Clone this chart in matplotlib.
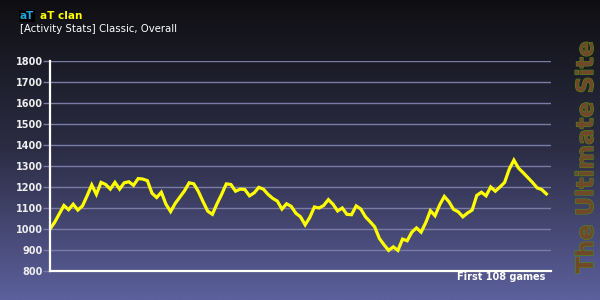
import numpy as np
import matplotlib
matplotlib.use('Agg')
import matplotlib.pyplot as plt
import matplotlib.patheffects as pe
from matplotlib.colors import LinearSegmentedColormap

# rating after each game
ratings = [1000, 1032, 1072, 1112, 1092, 1118, 1090, 1110, 1158, 1210,
           1165, 1222, 1212, 1190, 1222, 1190, 1220, 1225, 1208, 1240,
           1238, 1230, 1170, 1150, 1175, 1118, 1083, 1122, 1152, 1182,
           1220, 1215, 1178, 1130, 1085, 1070, 1120, 1165, 1215, 1212,
           1180, 1190, 1188, 1158, 1172, 1198, 1190, 1165, 1146, 1133,
           1095, 1120, 1108, 1075, 1058, 1020, 1055, 1105, 1100, 1112,
           1140, 1118, 1086, 1100, 1070, 1068, 1110, 1095, 1058, 1035,
           1010, 955, 925, 898, 915, 898, 952, 944, 985, 1005,
           985, 1030, 1087, 1063, 1115, 1155, 1130, 1093, 1082, 1058,
           1076, 1090, 1160, 1175, 1158, 1200, 1180, 1200, 1222, 1285,
           1328, 1290, 1268, 1245, 1222, 1196, 1188, 1167]
y_ticks = [800, 900, 1000, 1100, 1200, 1300, 1400, 1500, 1600, 1700, 1800]
clan_tag = 'aT'
clan_name = 'aT clan'
subtitle = '[Activity Stats] Classic, Overall'
footer = 'First 108 games'
watermark = 'The Ultimate Site'

games = np.arange(len(ratings))

fig = plt.figure(figsize=(6, 3), dpi=100)

# background gradient, dark on top, periwinkle at the bottom
bg = fig.add_axes([0, 0, 1, 1], zorder=0)
cmap = LinearSegmentedColormap.from_list('bg', ['#0f0f12', '#2c2d45', '#5c609c'])
bg.imshow(np.linspace(0, 1, 256).reshape(-1, 1), aspect='auto', cmap=cmap,
          extent=[0, 1, 0, 1])
bg.axis('off')

ax = fig.add_axes([50 / 600, 1 - 271 / 300, 501 / 600, 210 / 300], zorder=1)
ax.set_facecolor('none')
ax.plot(games, ratings, color='#ffff00', lw=2.3, solid_joinstyle='miter', zorder=3)
ax.set_xlim(0, 108)
ax.set_ylim(800, 1800)
ax.set_yticks(y_ticks)
ax.set_xticks([])
ax.grid(axis='y', color='#7a7ca6', lw=1.0)
ax.tick_params(axis='y', length=5.0, width=1.0, color='#7a7ca6', pad=0,
               labelsize=7, labelcolor='#eeeeee')
for lab in ax.get_yticklabels():
    lab.set_fontweight('bold')
for s in ['top', 'right']:
    ax.spines[s].set_visible(False)
for s in ['left', 'bottom']:
    ax.spines[s].set_color('white')
    ax.spines[s].set_linewidth(1.6)
    ax.spines[s].set_zorder(4)

# header
fig.text(20 / 600, 1 - 16 / 300, clan_tag, color='#20a8e0', fontsize=7.5,
         fontweight='bold', va='center', ha='left',
         bbox=dict(facecolor='black', edgecolor='none', pad=0.6))
fig.text(40 / 600, 1 - 16 / 300, clan_name, color='#ffff00', fontsize=7.5,
         fontweight='bold', va='center', ha='left')
fig.text(20 / 600, 1 - 29 / 300, subtitle, color='white', fontsize=7.3,
         va='center', ha='left')
fig.text(545 / 600, 1 - 277 / 300, footer, color='white', fontsize=7,
         fontweight='bold', va='center', ha='right')

# vertical site logo on the right: brown letters with a thin grass edge
fig.text(586 / 600, 1 - 157 / 300, watermark, rotation=90, color='#70482a',
         fontsize=17, fontweight='bold', va='center', ha='center',
         path_effects=[pe.withStroke(linewidth=0.8, foreground='#4f8f12')])

fig.savefig('out.png', dpi=100)
